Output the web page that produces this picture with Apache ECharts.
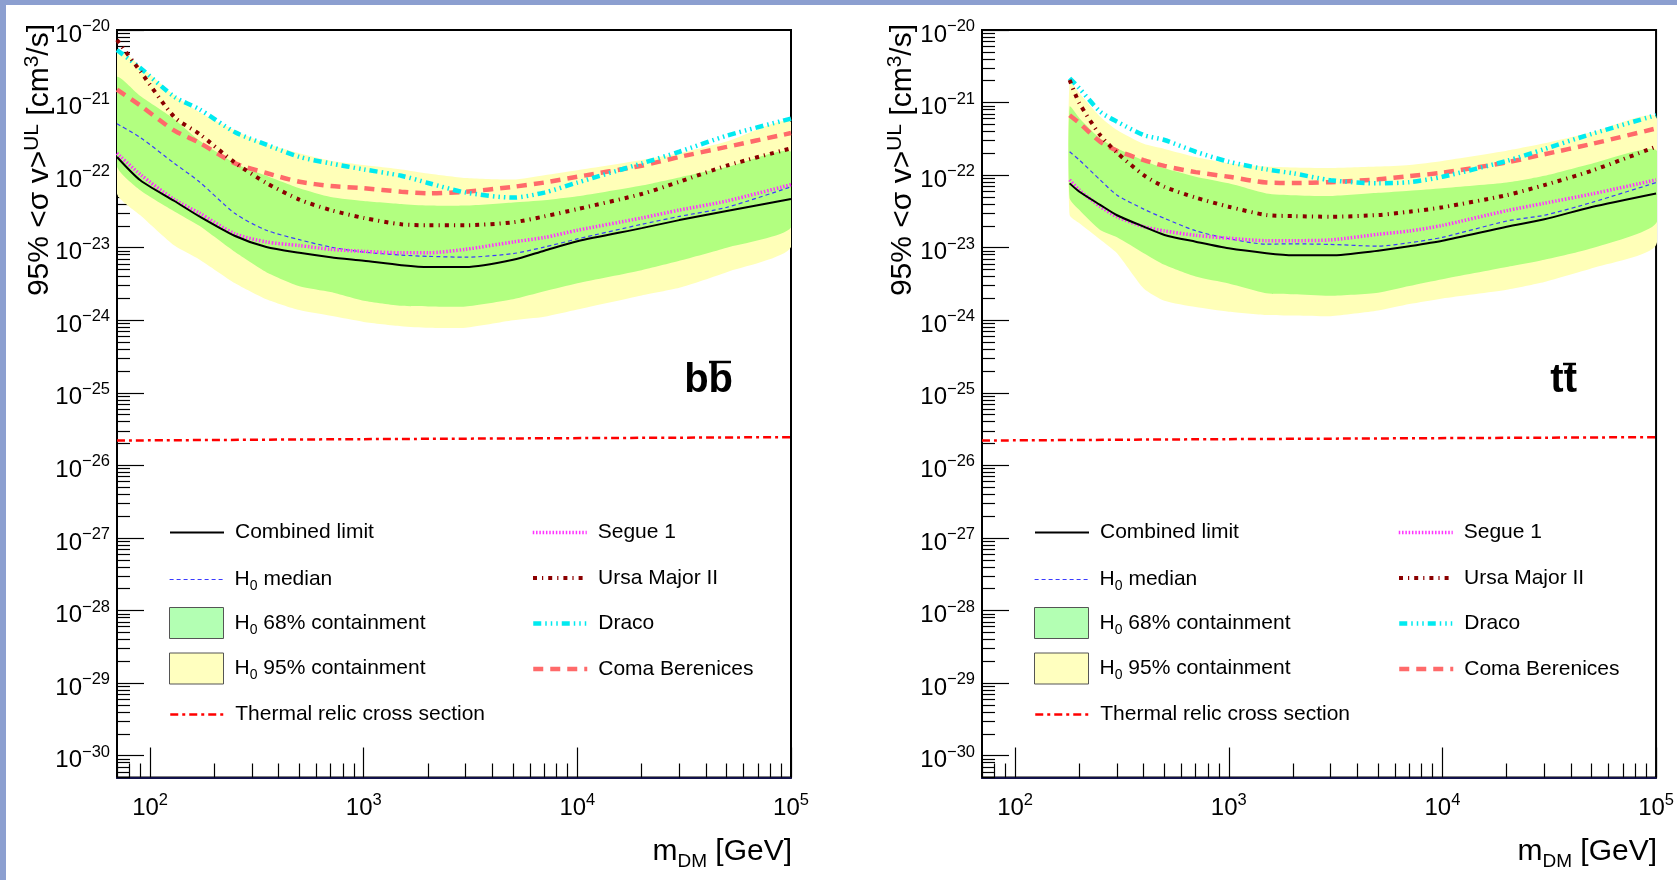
<!DOCTYPE html>
<html>
<head>
<meta charset="utf-8">
<title>DM annihilation limits</title>
<script src="https://cdn.jsdelivr.net/npm/echarts@6/dist/echarts.min.js"></script>
<style>
  html, body { margin: 0; padding: 0; background: #fff; }
  #chart { width: 1677px; height: 880px; }
</style>
</head>
<body>
<div id="chart"></div>
<script>
//======================================================================================================================
// Data
//======================================================================================================================

var X_MIN = 70, X_MAX = 1e5, Y_MIN = 5e-31, Y_MAX = 1e-20;
var X_DECADES = [100, 1000, 10000, 100000];
var Y_DECADES = [1e-30, 1e-29, 1e-28, 1e-27, 1e-26, 1e-25, 1e-24, 1e-23, 1e-22, 1e-21, 1e-20];

// b bbar channel
var MASS_BB     = [70, 90, 130, 170, 250, 350, 500, 700, 1000, 1500, 2000, 3000, 5000, 7000, 10000, 20000, 30000, 50000, 100000];
var COMBINED_BB = [1.78e-22, 8.5e-23, 4.4e-23, 2.7e-23, 1.45e-23, 1.02e-23, 8.5e-24, 7.4e-24, 6.6e-24, 5.75e-24, 5.4e-24, 5.4e-24, 6.8e-24, 9.1e-24, 1.23e-23, 1.86e-23, 2.4e-23, 3.2e-23, 4.7e-23];
var MEDIAN_BB   = [5.1e-22, 3.3e-22, 1.45e-22, 8.1e-23, 2.95e-23, 1.74e-23, 1.29e-23, 1.02e-23, 8.7e-24, 7.9e-24, 7.6e-24, 7.4e-24, 8.3e-24, 1.02e-23, 1.32e-23, 2.1e-23, 2.7e-23, 3.6e-23, 6.9e-23];
var SEGUE_BB    = [2.0e-22, 1.02e-22, 4.6e-23, 3.0e-23, 1.55e-23, 1.2e-23, 1.07e-23, 9.5e-24, 8.9e-24, 8.5e-24, 8.5e-24, 9.5e-24, 1.2e-23, 1.38e-23, 1.74e-23, 2.57e-23, 3.3e-23, 4.4e-23, 7.4e-23];
var URSA_BB     = [7.3e-21, 2.7e-21, 6.3e-22, 3.7e-22, 1.48e-22, 7.8e-23, 4.6e-23, 3.3e-23, 2.57e-23, 2.1e-23, 2.04e-23, 2.04e-23, 2.24e-23, 2.7e-23, 3.4e-23, 5.5e-23, 8.1e-23, 1.35e-22, 2.34e-22];
var DRACO_BB    = [5.3e-21, 3.0e-21, 1.2e-21, 8.1e-22, 3.9e-22, 2.63e-22, 1.78e-22, 1.45e-22, 1.2e-22, 9.8e-23, 7.8e-23, 5.75e-23, 4.9e-23, 5.75e-23, 7.9e-23, 1.45e-22, 2.1e-22, 3.5e-22, 6.0e-22];
var COMA_BB     = [1.51e-21, 9.1e-22, 4.1e-22, 2.8e-22, 1.45e-22, 1.07e-22, 8.1e-23, 7.1e-23, 6.6e-23, 5.9e-23, 5.6e-23, 5.9e-23, 6.9e-23, 7.9e-23, 9.5e-23, 1.35e-22, 1.78e-22, 2.45e-22, 3.8e-22];
var Y95HI_BB    = [5.3e-21, 3.2e-21, 1.26e-21, 7.4e-22, 4.1e-22, 2.7e-22, 2.0e-22, 1.58e-22, 1.38e-22, 1.2e-22, 1.05e-22, 9.1e-23, 8.7e-23, 1.0e-22, 1.17e-22, 1.62e-22, 2.0e-22, 2.9e-22, 5.4e-22];
var G68HI_BB    = [2.24e-21, 1.23e-21, 5.9e-22, 3.0e-22, 1.45e-22, 9.8e-23, 6.6e-23, 5.0e-23, 4.4e-23, 4.0e-23, 3.8e-23, 3.8e-23, 4.2e-23, 4.5e-23, 5.1e-23, 7.2e-23, 9.3e-23, 1.29e-22, 2.1e-22];
var G68LO_BB    = [1.32e-22, 6.2e-23, 3.16e-23, 2.0e-23, 8.7e-24, 4.6e-24, 2.95e-24, 2.45e-24, 1.86e-24, 1.58e-24, 1.55e-24, 1.55e-24, 1.95e-24, 2.51e-24, 3.24e-24, 4.9e-24, 6.6e-24, 1.0e-23, 1.9e-23];
var Y95LO_BB    = [5.6e-23, 2.8e-23, 1.07e-23, 6.9e-24, 3.24e-24, 1.95e-24, 1.38e-24, 1.15e-24, 9.5e-25, 8.3e-25, 7.9e-25, 7.9e-25, 1.0e-24, 1.12e-24, 1.41e-24, 2.2e-24, 2.8e-24, 4.6e-24, 1.02e-23];

// t tbar channel
var MASS_TT     = [180, 200, 250, 300, 400, 500, 700, 1000, 1500, 2000, 3000, 5000, 7000, 10000, 20000, 30000, 50000, 100000];
var COMBINED_TT = [7.7e-23, 5.9e-23, 3.9e-23, 2.8e-23, 1.95e-23, 1.5e-23, 1.21e-23, 9.8e-24, 8.4e-24, 7.85e-24, 7.85e-24, 9.1e-24, 1.05e-23, 1.25e-23, 1.95e-23, 2.46e-23, 3.64e-23, 5.6e-23];
var MEDIAN_TT   = [2.1e-22, 1.61e-22, 8.6e-23, 5.3e-23, 3.4e-23, 2.54e-23, 1.71e-23, 1.33e-23, 1.12e-23, 1.13e-23, 1.11e-23, 1.05e-23, 1.17e-23, 1.39e-23, 2.33e-23, 2.8e-23, 4.2e-23, 7.9e-23];
var SEGUE_TT    = [8.6e-23, 6.2e-23, 3.7e-23, 2.67e-23, 1.95e-23, 1.7e-23, 1.48e-23, 1.35e-23, 1.25e-23, 1.25e-23, 1.28e-23, 1.53e-23, 1.7e-23, 2.03e-23, 3.24e-23, 4.1e-23, 5.5e-23, 8.6e-23];
var URSA_TT     = [2.05e-21, 9.8e-22, 3.57e-22, 2.04e-22, 1.0e-22, 6.9e-23, 4.9e-23, 3.67e-23, 2.82e-23, 2.73e-23, 2.67e-23, 2.82e-23, 3.13e-23, 3.6e-23, 5.3e-23, 7.3e-23, 1.15e-22, 2.47e-22];
var DRACO_TT    = [2.16e-21, 1.57e-21, 7.5e-22, 5.45e-22, 3.57e-22, 3.05e-22, 2.1e-22, 1.53e-22, 1.2e-22, 1.06e-22, 8.5e-23, 7.7e-23, 8.0e-23, 9.5e-23, 1.57e-22, 2.29e-22, 3.7e-22, 6.7e-22];
var COMA_TT     = [6.7e-22, 5.2e-22, 2.9e-22, 2.17e-22, 1.61e-22, 1.34e-22, 1.1e-22, 9.5e-23, 7.9e-23, 7.8e-23, 8.0e-23, 8.75e-23, 9.7e-23, 1.08e-22, 1.5e-22, 1.94e-22, 2.69e-22, 4.4e-22];
var Y95HI_TT    = [1.94e-21, 1.34e-21, 6.4e-22, 4.2e-22, 2.7e-22, 2.3e-22, 1.78e-22, 1.46e-22, 1.31e-22, 1.27e-22, 1.25e-22, 1.31e-22, 1.38e-22, 1.57e-22, 2.17e-22, 2.74e-22, 3.9e-22, 6.4e-22];
var G68HI_TT    = [8.8e-22, 6.1e-22, 3.2e-22, 2.34e-22, 1.58e-22, 1.24e-22, 9.5e-23, 7.7e-23, 5.6e-23, 5.3e-23, 5.15e-23, 5.7e-23, 6.1e-23, 6.6e-23, 7.9e-23, 9.8e-23, 1.44e-22, 2.22e-22];
var G68LO_TT    = [4.8e-23, 3.3e-23, 1.75e-23, 1.39e-23, 8.4e-24, 5.8e-24, 4.0e-24, 3.2e-24, 2.35e-24, 2.28e-24, 2.18e-24, 2.4e-24, 2.96e-24, 3.67e-24, 5.4e-24, 6.8e-24, 9.8e-24, 2.17e-23];
var Y95LO_TT    = [2.82e-23, 2.17e-23, 1.3e-23, 8.4e-24, 2.75e-24, 1.86e-24, 1.52e-24, 1.31e-24, 1.18e-24, 1.16e-24, 1.14e-24, 1.36e-24, 1.67e-24, 2.0e-24, 2.64e-24, 3.37e-24, 5.2e-24, 1.09e-23];

// thermal relic cross section
var THERMAL_MASS = [70, 1000, 100000];
var THERMAL_SV   = [2.2e-26, 2.3e-26, 2.45e-26];

// legend entries (two columns per panel)
var LEGEND_COL1 = ['Combined limit', 'H0 median', 'H0 68% containment', 'H0 95% containment', 'Thermal relic cross section'];
var LEGEND_COL2 = ['Segue 1', 'Ursa Major II', 'Draco', 'Coma Berenices'];

//======================================================================================================================
// Styles
//======================================================================================================================

var FONT = '"Liberation Sans", Arial, Helvetica, sans-serif';

var STYLE = {
    combined: { color: '#000000', width: 2, type: 'solid' },
    median:   { color: '#3a3aff', width: 1.2, type: [4, 3] },
    segue:    { color: '#ff33ff', width: 3.5, type: [1.5, 1.8] },
    ursa:     { color: '#8b0000', width: 4, type: [4, 5, 1.2, 5] },
    draco:    { color: '#00eaf0', width: 4.5, type: [8, 4, 1.5, 4, 1.5, 4, 1.5, 4] },
    coma:     { color: '#ff6a6a', width: 4.5, type: [10, 7] },
    thermal:  { color: '#ff0000', width: 2.5, type: [8, 4, 3, 4] }
};
var GREEN = '#b2ff80', YELLOW = '#ffffb8';

var TICK_RICH = {
    b: { fontFamily: FONT, fontSize: 24, color: '#000', lineHeight: 32, padding: [10, 0, 0, 0] },
    e: { fontFamily: FONT, fontSize: 16.5, color: '#000', lineHeight: 32, padding: [0, 0, 7, 0] }
};

var TITLE_RICH = {
    a: { fontFamily: FONT, fontSize: 30, fill: '#000', lineHeight: 40 },
    u: { fontFamily: FONT, fontSize: 21, fill: '#000', lineHeight: 40, padding: [0, 0, 16, 0] },
    d: { fontFamily: FONT, fontSize: 19, fill: '#000', lineHeight: 40, padding: [20, 0, 0, 0] }
};

//======================================================================================================================
// Helpers
//======================================================================================================================

function powerLabel(v) {
    var e = (Math.abs(v) <= 40 && Number.isInteger(v)) ? v : Math.round(Math.log10(v));
    return '{b|10}{e|' + (e < 0 ? '\u2212' + (-e) : e) + '}';
}

function minorTicks(lo, hi, e0, e1) {
    var out = [];
    for (var e = e0; e <= e1; e++) {
        for (var k = 2; k <= 9; k++) {
            var v = k * Math.pow(10, e);
            if (v >= lo && v <= hi) out.push(v);
        }
    }
    return out;
}

var X_MINOR = minorTicks(X_MIN, X_MAX, 1, 4);
var Y_MINOR = minorTicks(Y_MIN, Y_MAX, -31, -21);

function xAxes(g) {
    return [{
        type: 'log', gridIndex: g, min: X_MIN, max: X_MAX, position: 'bottom',
        axisLine: { show: true, onZero: false, lineStyle: { color: '#12124a', width: 2 } },
        axisTick: { show: true, inside: true, length: 30, customValues: X_DECADES, lineStyle: { color: '#000', width: 1.2 } },
        axisLabel: { show: true, customValues: X_DECADES, margin: 10, formatter: powerLabel, rich: TICK_RICH },
        splitLine: { show: false }
    }, {
        type: 'log', gridIndex: g, min: X_MIN, max: X_MAX, position: 'bottom',
        axisLine: { show: false },
        axisTick: { show: true, inside: true, length: 14, customValues: X_MINOR, lineStyle: { color: '#000', width: 1.2 } },
        axisLabel: { show: false },
        splitLine: { show: false }
    }];
}

function yAxes(g) {
    return [{
        type: 'log', gridIndex: g, min: Y_MIN, max: Y_MAX, position: 'left',
        axisLine: { show: true, onZero: false, lineStyle: { color: '#000', width: 2 } },
        axisTick: { show: true, inside: true, length: 27, customValues: Y_DECADES, lineStyle: { color: '#000', width: 1.2 } },
        axisLabel: { show: true, customValues: Y_DECADES, margin: 7, formatter: powerLabel, rich: TICK_RICH },
        splitLine: { show: false }
    }, {
        type: 'log', gridIndex: g, min: Y_MIN, max: Y_MAX, position: 'left',
        axisLine: { show: false },
        axisTick: { show: true, inside: true, length: 13, customValues: Y_MINOR, lineStyle: { color: '#000', width: 1.2 } },
        axisLabel: { show: false },
        splitLine: { show: false }
    }];
}

function pairs(mass, vals) {
    return mass.map(function(m, i) { return [m, vals[i]]; });
}

function lineSeries(name, mass, vals, style, ax, z) {
    return {
        type: 'line', name: name, xAxisIndex: ax, yAxisIndex: ax,
        data: pairs(mass, vals), symbol: 'none', smooth: 0.25,
        lineStyle: style, itemStyle: { color: style.color }, z: z, silent: true
    };
}

function bandSeries(name, mass, hi, lo, color, ax, z) {
    return {
        type: 'custom', name: name, xAxisIndex: ax, yAxisIndex: ax, clip: true, silent: true, z: z,
        itemStyle: { color: color },
        data: [[mass[0], hi[0]]],
        renderItem: function(params, api) {
            var pts = [];
            for (var i = 0; i < mass.length; i++) pts.push(api.coord([mass[i], hi[i]]));
            for (var j = mass.length - 1; j >= 0; j--) pts.push(api.coord([mass[j], lo[j]]));
            return { type: 'polygon', shape: { points: pts, smooth: 0.2 }, style: { fill: color } };
        }
    };
}

function panelSeries(ax, d) {
    return [
        bandSeries('H0 95% containment', d.mass, d.y95hi, d.y95lo, YELLOW, ax, 1),
        bandSeries('H0 68% containment', d.mass, d.g68hi, d.g68lo, GREEN, ax, 2),
        lineSeries('Thermal relic cross section', THERMAL_MASS, THERMAL_SV, STYLE.thermal, ax, 3),
        lineSeries('Coma Berenices', d.mass, d.coma, STYLE.coma, ax, 4),
        lineSeries('Draco', d.mass, d.draco, STYLE.draco, ax, 4),
        lineSeries('Ursa Major II', d.mass, d.ursa, STYLE.ursa, ax, 4),
        lineSeries('H0 median', d.mass, d.median, STYLE.median, ax, 5),
        lineSeries('Segue 1', d.mass, d.segue, STYLE.segue, ax, 5),
        lineSeries('Combined limit', d.mass, d.combined, STYLE.combined, ax, 6)
    ];
}

function legendLabel(name) {
    if (name.indexOf('H0 ') === 0) return '{t|H}{s|0}{t|' + name.slice(2) + '}';
    return '{t|' + name + '}';
}

// one legend per row, so rows keep the same pitch whatever the icon type
var ROW_CENTERS = [531.5, 577, 622.5, 668, 713.5];

function legendRow(left, row, name) {
    var isBox = name.indexOf('containment') > 0;
    var item = { name: name };
    if (name === 'H0 68% containment') item = { name: name, icon: 'rect', itemStyle: { color: '#b3ffb3', borderColor: '#555', borderWidth: 1, opacity: 1 } };
    if (name === 'H0 95% containment') item = { name: name, icon: 'rect', itemStyle: { color: '#ffffbf', borderColor: '#555', borderWidth: 1, opacity: 1 } };
    return {
        orient: 'vertical', left: left, top: ROW_CENTERS[row] - (isBox ? 15.5 : 11.5), padding: 0,
        itemWidth: 54, itemHeight: 31, selectedMode: false,
        itemStyle: { opacity: 0 },
        lineStyle: { width: 'inherit' },
        formatter: legendLabel,
        textStyle: {
            padding: [0, 0, 0, 6],
            rich: {
                t: { fontFamily: FONT, fontSize: 21, color: '#000', lineHeight: 30 },
                s: { fontFamily: FONT, fontSize: 14, color: '#000', lineHeight: 30, padding: [14, 0, 0, 0] }
            }
        },
        data: [item]
    };
}

function panelLegend(left1, left2) {
    return LEGEND_COL1.map(function(n, i) { return legendRow(left1, i, n); })
        .concat(LEGEND_COL2.map(function(n, i) { return legendRow(left2, i, n); }));
}

function yTitle(x) {
    return {
        type: 'text', x: x, y: 24, rotation: Math.PI / 2, z: 10,
        style: { text: '{a|95% <\u03c3 v>}{u|UL}{a| [cm}{u|3}{a|/s]}', align: 'right', verticalAlign: 'middle', rich: TITLE_RICH }
    };
}

function xTitle(x) {
    return {
        type: 'text', x: x, y: 852, z: 10,
        style: { text: '{a|m}{d|DM}{a| [GeV]}', align: 'right', verticalAlign: 'middle', rich: TITLE_RICH }
    };
}

function channelLabel(text, x, barX0, barX1, barY) {
    return [{
        type: 'text', x: x, y: 381, z: 10,
        style: { text: text, font: 'bold 40px ' + FONT, fill: '#000', align: 'right', verticalAlign: 'middle' }
    }, {
        type: 'line', z: 10,
        shape: { x1: barX0, y1: barY, x2: barX1, y2: barY },
        style: { stroke: '#000', lineWidth: 2.5 }
    }];
}

//======================================================================================================================
// Chart
//======================================================================================================================

var BB = { mass: MASS_BB, combined: COMBINED_BB, median: MEDIAN_BB, segue: SEGUE_BB, ursa: URSA_BB, draco: DRACO_BB,
           coma: COMA_BB, y95hi: Y95HI_BB, g68hi: G68HI_BB, g68lo: G68LO_BB, y95lo: Y95LO_BB };
var TT = { mass: MASS_TT, combined: COMBINED_TT, median: MEDIAN_TT, segue: SEGUE_TT, ursa: URSA_TT, draco: DRACO_TT,
           coma: COMA_TT, y95hi: Y95HI_TT, g68hi: G68HI_TT, g68lo: G68LO_TT, y95lo: Y95LO_TT };

var chart = echarts.init(document.getElementById('chart'), null, { renderer: 'canvas' });

chart.setOption({
    animation: false,
    backgroundColor: '#ffffff',
    textStyle: { fontFamily: FONT },
    grid: [
        { left: 117, top: 30, width: 674, height: 747.5, show: true, borderColor: '#000', borderWidth: 2, backgroundColor: '#fff' },
        { left: 982, top: 30, width: 675, height: 747.5, show: true, borderColor: '#000', borderWidth: 2, backgroundColor: '#fff' }
    ],
    // axes 0,1 -> left panel (major, minor); axes 2,3 -> right panel
    xAxis: xAxes(0).concat(xAxes(1)),
    yAxis: yAxes(0).concat(yAxes(1)),
    legend: panelLegend(169, 531).concat(panelLegend(1034, 1397)),
    series: panelSeries(0, BB).concat(panelSeries(2, TT)),
    graphic: [
        { type: 'rect', shape: { x: 0, y: 0, width: 1677, height: 5 }, style: { fill: '#8c9fd0' }, z: 20 },
        { type: 'rect', shape: { x: 0, y: 0, width: 6, height: 880 }, style: { fill: '#8c9fd0' }, z: 20 },
        yTitle(40), yTitle(903), xTitle(792), xTitle(1657)
    ].concat(channelLabel('bb', 733, 709, 731, 362), channelLabel('tt', 1577, 1563, 1576, 364))
});
</script>
</body>
</html>
